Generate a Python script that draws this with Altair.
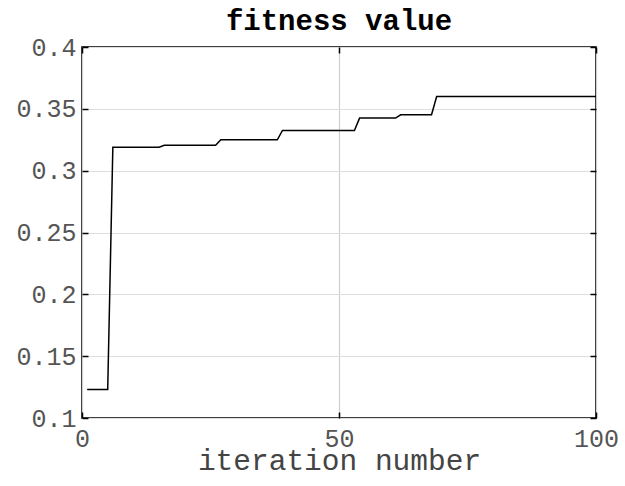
import altair as alt
import pandas as pd

# Best fitness found so far at each iteration of the search
iterations = list(range(1, 101))
fitness = [
    0.123, 0.123, 0.123, 0.123, 0.123, 0.319, 0.319, 0.319, 0.319, 0.319,
    0.319, 0.319, 0.319, 0.319, 0.319, 0.3205, 0.3205, 0.3205, 0.3205, 0.3205,
    0.3205, 0.3205, 0.3205, 0.3205, 0.3205, 0.3205, 0.325, 0.325, 0.325, 0.325,
    0.325, 0.325, 0.325, 0.325, 0.325, 0.325, 0.325, 0.325, 0.3325, 0.3325,
    0.3325, 0.3325, 0.3325, 0.3325, 0.3325, 0.3325, 0.3325, 0.3325, 0.3325, 0.3325,
    0.3325, 0.3325, 0.3325, 0.3425, 0.3425, 0.3425, 0.3425, 0.3425, 0.3425, 0.3425,
    0.3425, 0.3452, 0.3452, 0.3452, 0.3452, 0.3452, 0.3452, 0.3452, 0.36, 0.36,
    0.36, 0.36, 0.36, 0.36, 0.36, 0.36, 0.36, 0.36, 0.36, 0.36,
    0.36, 0.36, 0.36, 0.36, 0.36, 0.36, 0.36, 0.36, 0.36, 0.36,
    0.36, 0.36, 0.36, 0.36, 0.36, 0.36, 0.36, 0.36, 0.36, 0.36,
]
x_ticks = [0, 50, 100]
y_ticks = [0.1, 0.15, 0.2, 0.25, 0.3, 0.35, 0.4]

df = pd.DataFrame({"iteration": iterations, "fitness": fitness})

FONT = "Courier New, Liberation Mono, monospace"
TICK = 6
x_scale = alt.Scale(domain=[0, 100], nice=False, zero=False)
y_scale = alt.Scale(domain=[0.1, 0.4], nice=False, zero=False)

common_axis = dict(
    offset=-TICK, tickSize=TICK, domain=False, tickColor="black", tickWidth=1.5,
    labelFont=FONT, labelFontSize=25, labelColor="#555555",
)

line = alt.Chart(df).mark_line(color="black", strokeWidth=1.5).encode(
    x=alt.X(
        "iteration:Q", scale=x_scale,
        axis=alt.Axis(
            orient="bottom", values=x_ticks, title="iteration number",
            titleFont=FONT, titleFontSize=29.5, titleFontWeight="normal",
            titleColor="#444444", titlePadding=-5, labelPadding=8,
            grid=True, gridColor="#cfcfcf", gridWidth=1.2, labelFlush=False,
            **common_axis,
        ),
    ),
    y=alt.Y(
        "fitness:Q", scale=y_scale,
        axis=alt.Axis(
            orient="left", values=y_ticks, format="~g", title=None,
            labelPadding=6, grid=True, gridColor="#dedede", gridWidth=1.2,
            labelFlush=False, **common_axis,
        ),
    ),
)

# Inward ticks along the top and right edges of the box
mirror = alt.Chart(df).mark_line(opacity=0).encode(
    x=alt.X(
        "iteration:Q", scale=x_scale,
        axis=alt.Axis(orient="top", values=x_ticks, labels=False, title=None,
                      grid=False, **common_axis),
    ),
    y=alt.Y(
        "fitness:Q", scale=y_scale,
        axis=alt.Axis(orient="right", values=y_ticks, labels=False, title=None,
                      grid=False, **common_axis),
    ),
)

chart = (
    alt.layer(line, mirror)
    .resolve_axis(x="independent", y="independent")
    .properties(
        width=514, height=371,
        autosize=alt.AutoSizeParams(type="none"),
        padding={"left": 82, "top": 47, "right": 29, "bottom": 68},
        title=alt.TitleParams(
            "fitness value", font=FONT, fontSize=29, fontWeight="bold",
            color="black", anchor="middle", offset=10, dy=11,
        ),
        background="white",
    )
    .configure_view(stroke="black", strokeWidth=1.6)
)

chart.save("out.html", embed_options={"renderer": "svg", "actions": False})
